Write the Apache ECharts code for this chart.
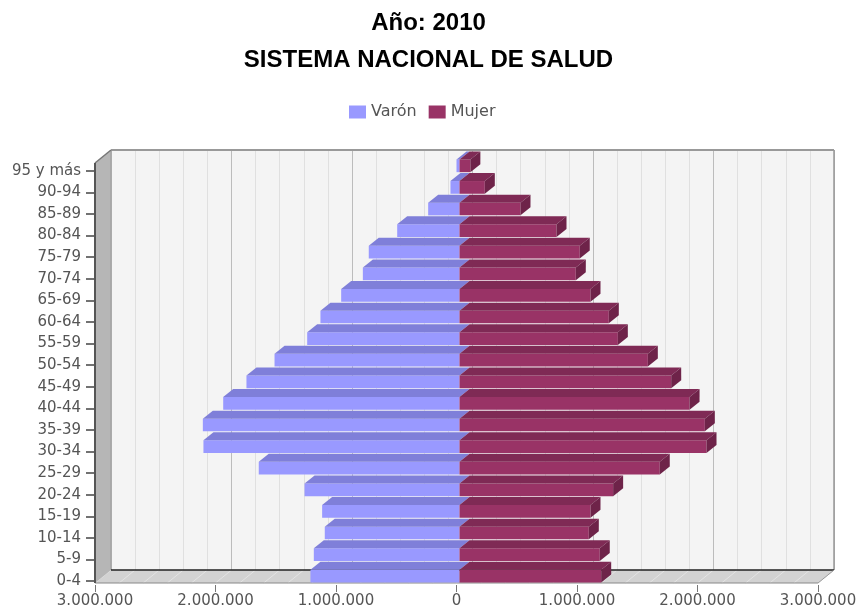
<!DOCTYPE html>
<html>
<head>
<meta charset="utf-8">
<title>Año 2010 - Sistema Nacional de Salud</title>
<script src="https://cdn.jsdelivr.net/npm/echarts@6/dist/echarts.min.js"></script>
<style>
  html, body { margin: 0; padding: 0; background: #fff; }
  #chart { width: 857px; height: 606px; }
</style>
</head>
<body>
<div id="chart"></div>
<script>
// bottom to top, as the category axis draws them
const ageGroups = ['0-4', '5-9', '10-14', '15-19', '20-24', '25-29', '30-34', '35-39', '40-44', '45-49',
  '50-54', '55-59', '60-64', '65-69', '70-74', '75-79', '80-84', '85-89', '90-94', '95 y más']
const maleValues = [1237000, 1209000, 1118000, 1140000, 1286000, 1666000, 2125000, 2130000, 1961000, 1768000,
  1535000, 1264000, 1154000, 982000, 802000, 753000, 517000, 260000, 75000, 25000]
const femaleValues = [1176000, 1164000, 1073000, 1087000, 1275000, 1662000, 2050000, 2036000, 1909000, 1757000,
  1563000, 1314000, 1239000, 1087000, 965000, 998000, 805000, 506000, 210000, 90000]
const xTickLabels = ['3.000.000', '2.000.000', '1.000.000', '0', '1.000.000', '2.000.000', '3.000.000']

const FONT = 'DejaVu Sans'
const WALL_DX = 16, WALL_DY = 13   // depth of the box
const BAR_DX = 10, BAR_DY = 8      // depth of each bar
const BAR_SHIFT_X = 3, BAR_SHIFT_Y = -5

const chart = echarts.init(document.getElementById('chart'), null, { renderer: 'canvas' })

// left wall, floor and box edges, laid out on the back grid
function renderBox(params, api) {
  const bl = api.coord([-3e6, 0])
  const tr = api.coord([3e6, 1])
  const bx0 = bl[0], by1 = bl[1], bx1 = tr[0], by0 = tr[1]
  const fx0 = bx0 - WALL_DX, fx1 = bx1 - WALL_DX
  const fy0 = by0 + WALL_DY, fy1 = by1 + WALL_DY
  const kids = []
  kids.push({ type: 'polygon', shape: { points: [[fx0, fy1], [bx0, by1], [bx1, by1], [fx1, fy1]] }, style: { fill: '#d2d2d2' } })
  for (let v = -3e6; v <= 3e6; v += 2e5) {
    const x = api.coord([v, 0])[0]
    kids.push({ type: 'line', shape: { x1: x, y1: by1, x2: x - WALL_DX, y2: fy1 }, style: { stroke: '#e4e4e4', lineWidth: 1 } })
  }
  kids.push({ type: 'polygon', shape: { points: [[fx0, fy0], [bx0, by0], [bx0, by1], [fx0, fy1]] }, style: { fill: '#b6b6b6' } })
  const line = (x1, y1, x2, y2, stroke, w) =>
    kids.push({ type: 'line', shape: { x1, y1, x2, y2 }, style: { stroke, lineWidth: w } })
  line(bx0, by0, bx0, by1, '#9a9a9a', 1)
  line(bx0, by0, bx1, by0, '#999', 2)
  line(bx1, by0, bx1, by1, '#999', 1.5)
  line(bx0, by1, bx1, by1, '#222', 1.5)
  line(bx1, by1, fx1, fy1, '#999', 1)
  line(fx0, fy1, fx1, fy1, '#888', 1)
  line(fx0, fy0, bx0, by0, '#777', 1.5)
  line(fx0, fy0, fx0, fy1, '#555', 2)
  return { type: 'group', children: kids }
}

function barRenderer(front, top, side) {
  return function (params, api) {
    const v = api.value(0)
    const idx = api.value(1)
    const base = api.coord([0, idx])
    const end = api.coord([v, idx])
    const band = api.size([0, 1])[1]
    const h = band * 0.59
    const x0 = base[0] + BAR_SHIFT_X
    const x1 = end[0] + BAR_SHIFT_X
    const yc = base[1] + BAR_SHIFT_Y
    const yT = yc - h / 2, yB = yc + h / 2
    const kids = [
      { type: 'rect', shape: { x: Math.min(x0, x1), y: yT, width: Math.abs(x1 - x0), height: h }, style: { fill: front } },
      { type: 'polygon', shape: { points: [[x0, yT], [x1, yT], [x1 + BAR_DX, yT - BAR_DY], [x0 + BAR_DX, yT - BAR_DY]] }, style: { fill: top } }
    ]
    if (side) {
      kids.push({ type: 'polygon', shape: { points: [[x1, yT], [x1 + BAR_DX, yT - BAR_DY], [x1 + BAR_DX, yB - BAR_DY], [x1, yB]] }, style: { fill: side } })
    }
    return { type: 'group', children: kids }
  }
}

const option = {
  animation: false,
  backgroundColor: '#fff',
  color: ['#9999ff', '#993366'],
  title: [
    { text: 'Año: 2010', left: 'center', top: 6, textStyle: { fontFamily: 'Liberation Sans', fontWeight: 'bold', fontSize: 24, color: '#000' } },
    { text: 'SISTEMA NACIONAL DE SALUD', left: 'center', top: 43, textStyle: { fontFamily: 'Liberation Sans', fontWeight: 'bold', fontSize: 24, color: '#000' } }
  ],
  legend: {
    data: ['Varón', 'Mujer'],
    left: 349,
    top: 104,
    padding: 0,
    icon: 'rect',
    itemWidth: 17,
    itemHeight: 13,
    itemGap: 12,
    textStyle: { fontFamily: FONT, fontSize: 16, color: '#555' }
  },
  grid: [
    { left: 95, top: 160, width: 723, height: 432, outerBoundsMode: 'none' },
    { left: 111, top: 150, width: 723, height: 420, show: true, backgroundColor: '#f4f4f4', borderWidth: 0, outerBoundsMode: 'none' }
  ],
  xAxis: [
    {
      type: 'value', gridIndex: 0, min: -3e6, max: 3e6, interval: 1e6,
      axisLine: { show: false, onZero: false },
      axisTick: { show: true, inside: true, length: 7, lineStyle: { color: '#777' } },
      axisLabel: {
        margin: 2, fontFamily: FONT, fontSize: 15, color: '#555',
        formatter: (val) => xTickLabels[Math.round(val / 1e6) + 3]
      },
      splitLine: { show: false }
    },
    {
      type: 'value', gridIndex: 1, min: -3e6, max: 3e6, interval: 1e6,
      axisLine: { show: false }, axisTick: { show: false }, axisLabel: { show: false },
      splitLine: { show: true, lineStyle: { color: '#bcbcbc', width: 1 } },
      minorTick: { show: false, splitNumber: 5 },
      minorSplitLine: { show: true, lineStyle: { color: '#e0e0e0', width: 1 } }
    }
  ],
  yAxis: [
    {
      type: 'category', gridIndex: 0, data: ageGroups, position: 'left',
      axisLine: { show: false, onZero: false },
      axisTick: { show: true, alignWithLabel: true, length: 9, lineStyle: { color: '#444', width: 1.5 } },
      axisLabel: { margin: 14, fontFamily: FONT, fontSize: 15, color: '#555' }
    },
    {
      type: 'value', gridIndex: 1, min: 0, max: 1,
      show: false, splitLine: { show: false }
    }
  ],
  series: [
    {
      type: 'custom', name: 'box', xAxisIndex: 1, yAxisIndex: 1, z: 1, silent: true,
      data: [[0, 0]], renderItem: renderBox
    },
    {
      type: 'custom', name: 'Varón', xAxisIndex: 0, yAxisIndex: 0, z: 3,
      itemStyle: { color: '#9999ff' },
      encode: { x: 0, y: 1 },
      data: maleValues.map((v, i) => [-v, i]),
      renderItem: barRenderer('#9999ff', '#7f7fd9', null)
    },
    {
      type: 'custom', name: 'Mujer', xAxisIndex: 0, yAxisIndex: 0, z: 3,
      itemStyle: { color: '#993366' },
      encode: { x: 0, y: 1 },
      data: femaleValues.map((v, i) => [v, i]),
      renderItem: barRenderer('#993366', '#7f2a55', '#6e2349')
    }
  ]
}

chart.setOption(option)
window.addEventListener('resize', () => chart.resize())
</script>
</body>
</html>
